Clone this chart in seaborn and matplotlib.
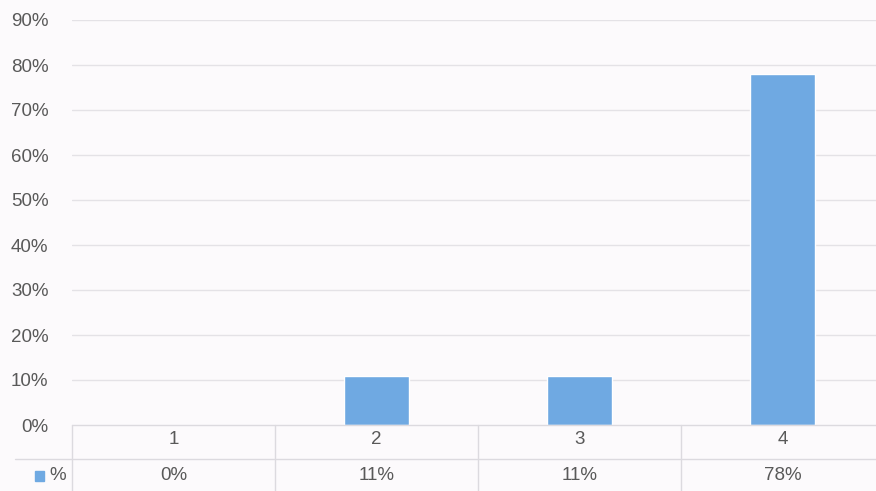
import matplotlib
matplotlib.use('Agg')
import matplotlib.pyplot as plt
import matplotlib.transforms as mtransforms
import seaborn as sns
import pandas as pd

categories = ['1', '2', '3', '4']
values = [0.0, 0.11, 0.11, 0.78]
value_labels = ['0%', '11%', '11%', '78%']
series_name = '%'
y_ticks = [0.0, 0.1, 0.2, 0.3, 0.4, 0.5, 0.6, 0.7, 0.8, 0.9]

bar_color = '#6fa9e2'
text_color = '#595959'
grid_color = '#e4e2e6'
bg_color = '#fcfafc'

sns.set_theme(style='white')
plt.rcParams['font.family'] = ['Liberation Sans', 'DejaVu Sans']

df = pd.DataFrame({'cat': categories, 'val': values})

fig = plt.figure(figsize=(8.76, 4.91), dpi=100, facecolor=bg_color)
ax = fig.add_axes([72 / 876, 66 / 491, 812 / 876, 405 / 491])
ax.set_facecolor(bg_color)

sns.barplot(data=df, x='cat', y='val', color=bar_color, width=0.32,
            saturation=1, ax=ax, zorder=3)

ax.set_ylim(0, 0.9)
ax.set_xlim(-0.5, 3.5)
ax.set_yticks(y_ticks)
ax.set_yticklabels([f'{t:.0%}' for t in y_ticks], color=text_color, fontsize=13.5)
ax.tick_params(axis='y', length=0, pad=17)
ax.set_xticks([])
ax.set_xlabel('')
ax.set_ylabel('')
for t in y_ticks[1:]:
    ax.axhline(t, color=grid_color, linewidth=1, zorder=1)
for s in ax.spines.values():
    s.set_visible(False)

# data table below the plot
trans = mtransforms.blended_transform_factory(ax.transData, fig.transFigure)
row1_y = 491 - 440
row2_y = 491 - 476
for i, (c, lab) in enumerate(zip(categories, value_labels)):
    fig.text(i, row1_y / 491, c, transform=trans, ha='center', va='center',
             color=text_color, fontsize=13.5)
    fig.text(i, row2_y / 491, lab, transform=trans, ha='center', va='center',
             color=text_color, fontsize=13.5)

line_kw = dict(color='#dcdadf', linewidth=1, transform=fig.transFigure)
fig.add_artist(plt.Line2D([72 / 876, 1], [66 / 491, 66 / 491], **line_kw))
fig.add_artist(plt.Line2D([15 / 876, 1], [32 / 491, 32 / 491], **line_kw))
fig.add_artist(plt.Line2D([72 / 876, 72 / 876], [0, 66 / 491], **line_kw))
for b in [0.5, 1.5, 2.5]:
    fig.add_artist(plt.Line2D([b, b], [0, 66 / 491], color='#dcdadf', linewidth=1,
                              transform=trans))

fig.patches.append(plt.Rectangle((35 / 876, (row2_y - 5) / 491), 9 / 876, 10 / 491,
                                 color=bar_color, transform=fig.transFigure))
fig.text(49 / 876, row2_y / 491, series_name, ha='left', va='center',
         color=text_color, fontsize=13.5)

fig.savefig('out.png', dpi=100, facecolor=bg_color)
